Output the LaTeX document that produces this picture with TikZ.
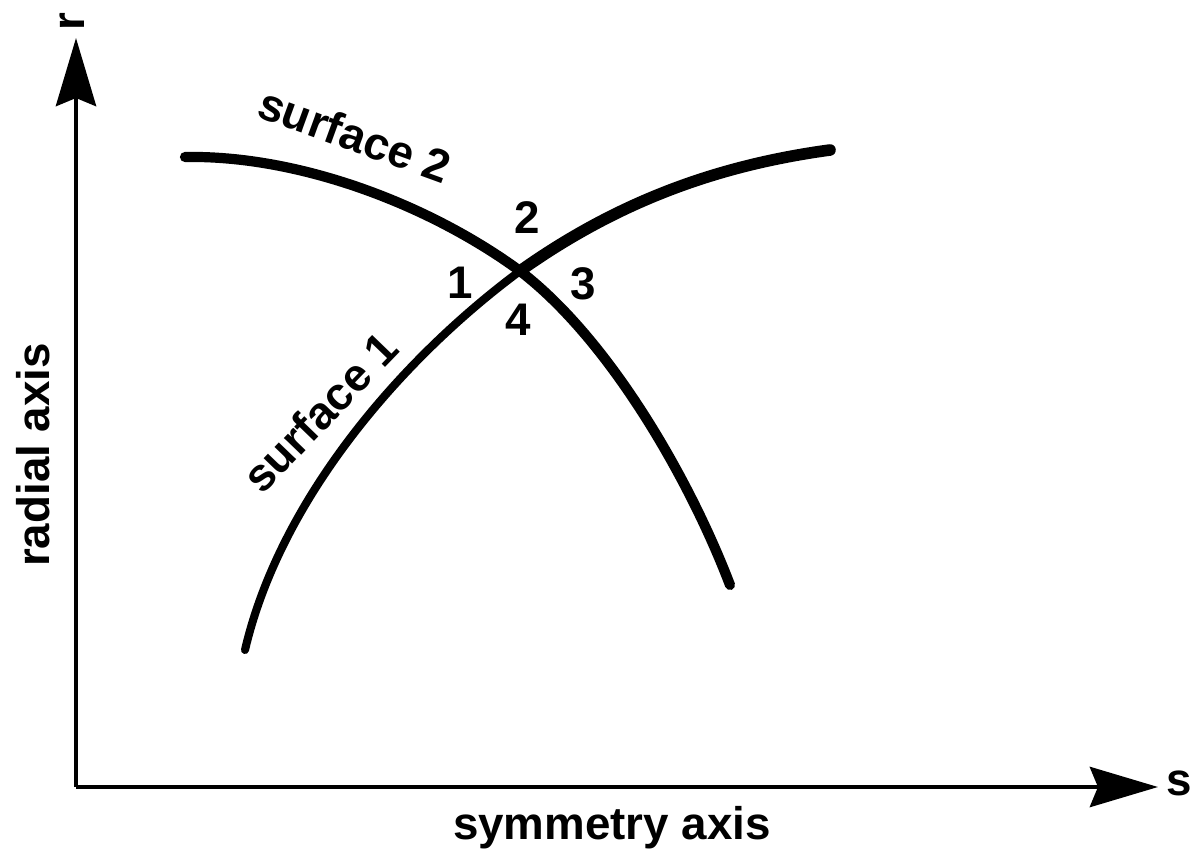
\documentclass[tikz,border=0pt]{standalone}
\usepackage{fontspec}
\setsansfont{Liberation Sans}
\usetikzlibrary{arrows.meta}

\begin{document}
\begin{tikzpicture}[
        x=0.01cm, y=-0.01cm,
        font=\sffamily\bfseries\fontsize{13}{15}\selectfont,
        >={Stealth[length=6.8mm, width=4mm, inset=0.8mm]},
        axis/.style={line width=1.4pt},
        surf/.style={line width=2.9pt, line cap=round},
        lbl/.style={inner sep=0pt, anchor=center}
    ]
        \useasboundingbox (0,0) rectangle (1194,858);

        % axes
        \coordinate (origin) at (76,787);
        \coordinate (rtip) at (76,38);
        \coordinate (stip) at (1158,787);
        \draw[axis, ->] (origin) -- (rtip);
        \draw[axis, ->] (origin) -- (stip);

        \node[lbl, rotate=90] (rlbl) at (72,22) {r};
        \node[lbl] (slbl) at (1179,783) {s};
        \node[lbl, rotate=90] (radial) at (33,455) {radial axis};
        \node[lbl] (symm) at (612,828) {symmetry axis};

        % surfaces
        \coordinate (cross) at (520,271);
        \draw[surf, line width=2.3pt] (245,650) .. controls (280,500) and (400,360) .. (cross);
        \draw[surf, line width=3.3pt] (cross) .. controls (620,200) and (720,165) .. (830,150);
        \draw[surf] (185,157) .. controls (300,155) and (430,205) .. (cross)
                    .. controls (610,340) and (690,480) .. (730,585);

        \node[lbl, rotate=-20] (surf2) at (355,135) {surface 2};
        \node[lbl, rotate=46] (surf1) at (320,412) {surface 1};

        % regions
        \node[lbl] (reg2) at (527,218) {2};
        \node[lbl] (reg1) at (460,283) {1};
        \node[lbl] (reg3) at (583,284) {3};
        \node[lbl] (reg4) at (518,320) {4};

    \end{tikzpicture}
\end{document}
